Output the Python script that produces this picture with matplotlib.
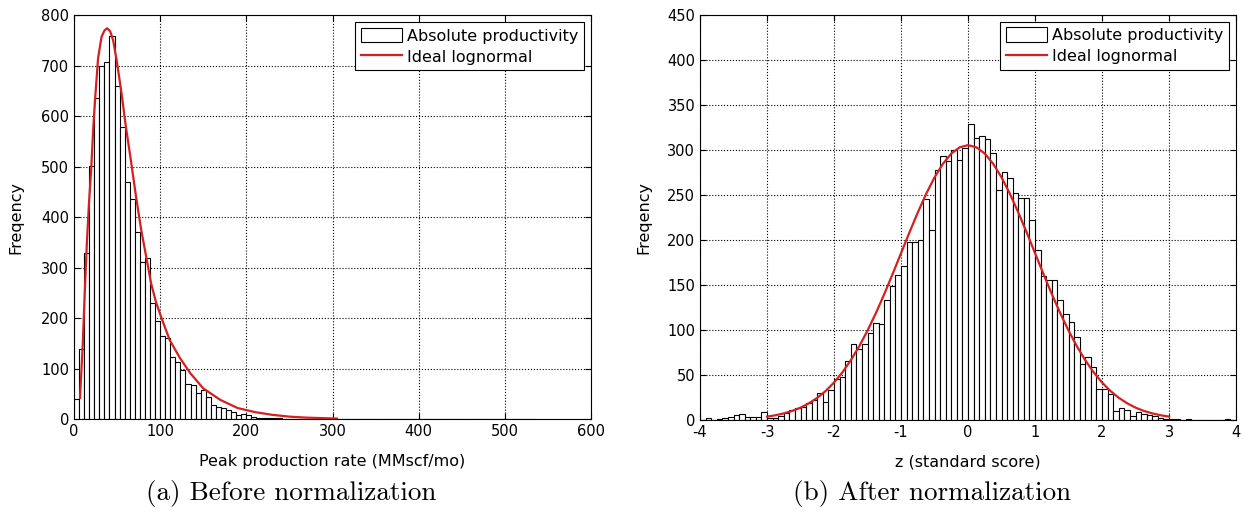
import numpy as np
import matplotlib
matplotlib.use("Agg")
import matplotlib.pyplot as plt
from matplotlib.patches import Patch
from matplotlib.lines import Line2D

plt.rcParams['font.family'] = ['DejaVu Sans']
plt.rcParams['axes.unicode_minus'] = False

# (a) peak production rate histogram, bins of 100/17 MMscf/mo starting at 0
left_bin_width = 100 / 17
left_counts = [40, 138, 330, 502, 635, 699, 708, 759, 660, 579,
               470, 436, 370, 312, 320, 231, 195, 164, 161, 124,
               113, 98, 70, 67, 52, 58, 44, 28, 24, 22,
               18, 14, 8, 11, 8, 5, 3, 3, 2, 2,
               2, 1, 1, 1, 1, 1, 1, 1, 0, 1,
               0, 0, 1, 1, 1, 1, 0, 0, 0, 0,
               0, 0, 1, 0, 0, 0, 0, 0, 0, 0,
               0, 0, 0, 0, 0, 0, 0, 0, 0, 0,
               0, 0, 0, 0, 0, 0, 0, 0, 0, 0, 1]
# ideal lognormal
left_curve_x = [7, 10, 12.5, 15, 17.5, 20, 22.5, 25, 28, 32, 35.5, 38.5, 42, 45.5,
                49.5, 55, 60, 66, 72, 78, 84, 89.5, 95, 101, 111, 123, 135, 150,
                170, 190, 210, 230, 250, 270, 290, 305]
left_curve_y = [42, 140, 250, 350, 430, 495, 580, 645, 715, 757, 770, 774, 768, 750,
                711, 648, 582, 513, 441, 375, 320, 269, 233, 203, 157, 121, 91, 61,
                38, 22, 14, 8.6, 5, 3, 2, 1.2]

# (b) standard score histogram, bins of 1/12 from -4 to 4
right_counts = [0, 2, 0, 1, 2, 3, 5, 6, 3, 3, 3, 9,
                2, 2, 4, 7, 11, 13, 14, 18, 22, 30, 20, 33,
                45, 47, 65, 84, 78, 84, 96, 107, 106, 133, 148, 161,
                171, 197, 197, 200, 245, 211, 277, 293, 287, 300, 288, 302,
                328, 313, 315, 312, 296, 255, 275, 269, 252, 246, 246, 222,
                188, 160, 155, 155, 133, 117, 108, 92, 62, 70, 59, 34,
                34, 28, 10, 13, 11, 4, 8, 6, 5, 4, 2, 1,
                1, 1, 0, 1, 0, 0, 0, 0, 0, 0, 1, 0]
right_curve_x = [-3.0, -2.875, -2.75, -2.625, -2.5, -2.375, -2.25, -2.125, -2.0,
                 -1.875, -1.75, -1.625, -1.5, -1.375, -1.25, -1.125, -1.0,
                 -0.875, -0.75, -0.625, -0.5, -0.375, -0.25, -0.125, 0.0,
                 0.125, 0.25, 0.375, 0.5, 0.625, 0.75, 0.875, 1.0,
                 1.125, 1.25, 1.375, 1.5, 1.625, 1.75, 1.875, 2.0,
                 2.125, 2.25, 2.375, 2.5, 2.625, 2.75, 2.875, 3.0]
right_curve_y = [3.4, 4.9, 7.0, 9.7, 13.4, 18.2, 24.3, 31.9, 41.3,
                 52.6, 66.0, 81.5, 99.0, 118.5, 139.6, 162.0, 185.0,
                 208.0, 230.2, 250.9, 269.2, 284.3, 295.6, 302.6, 305.0,
                 302.6, 295.6, 284.3, 269.2, 250.9, 230.2, 208.0, 185.0,
                 162.0, 139.6, 118.5, 99.0, 81.5, 66.0, 52.6, 41.3,
                 31.9, 24.3, 18.2, 13.4, 9.7, 7.0, 4.9, 3.4]

red = '#d42020'
fig = plt.figure(figsize=(12.43, 5.22), dpi=100)
ax1 = fig.add_axes([0.0595, 0.197, 0.416, 0.774])
ax2 = fig.add_axes([0.5632, 0.196, 0.4312, 0.776])


def style(ax, ylab_x, xlab_y):
    ax.grid(True, color='black', linestyle=':', linewidth=0.8)
    ax.set_axisbelow(True)
    ax.tick_params(direction='in', labelsize=10.5, length=4, top=True, right=True)
    for s in ax.spines.values():
        s.set_linewidth(0.8)
    ax.set_ylabel('Freqency', fontsize=11.5)
    ax.yaxis.set_label_coords(ylab_x, 0.5)
    ax.xaxis.set_label_coords(0.5, xlab_y)


left_edges = np.arange(len(left_counts)) * left_bin_width
ax1.bar(left_edges, left_counts, width=left_bin_width, align='edge',
        facecolor='white', edgecolor='black', linewidth=0.8, zorder=2)
ax1.plot(left_curve_x, left_curve_y, color=red, linewidth=1.6, zorder=3)
ax1.set_xlim(0, 600)
ax1.set_ylim(0, 800)
ax1.set_xticks(range(0, 601, 100))
ax1.set_yticks(range(0, 801, 100))
ax1.set_xlabel('Peak production rate (MMscf/mo)', fontsize=11.5)
style(ax1, -0.097, -0.085)

right_edges = np.linspace(-4, 4, len(right_counts) + 1)[:-1]
ax2.bar(right_edges, right_counts, width=1 / 12, align='edge',
        facecolor='white', edgecolor='black', linewidth=0.8, zorder=2)
ax2.plot(right_curve_x, right_curve_y, color=red, linewidth=1.6, zorder=3)
ax2.set_xlim(-4, 4)
ax2.set_ylim(0, 450)
ax2.set_xticks(range(-4, 5))
ax2.set_yticks(range(0, 451, 50))
ax2.set_xlabel('z (standard score)', fontsize=11.5)
style(ax2, -0.09, -0.085)

handles = [Patch(facecolor='white', edgecolor='black', linewidth=0.8),
           Line2D([], [], color=red, linewidth=1.6)]
labels = ['Absolute productivity', 'Ideal lognormal']
for ax in (ax1, ax2):
    leg = ax.legend(handles, labels, loc='upper right', fontsize=11.5,
                    fancybox=False, framealpha=1, edgecolor='black',
                    borderpad=0.35, labelspacing=0.35, handlelength=2.6,
                    handleheight=1.0, handletextpad=0.3, borderaxespad=0.45)
    leg.get_frame().set_linewidth(0.8)

fig.text(0.234, 0.055, '(a) Before normalization', fontsize=19.5,
         fontfamily='cmr10', ha='center', va='center')
fig.text(0.75, 0.055, '(b) After normalization', fontsize=19.5,
         fontfamily='cmr10', ha='center', va='center')

fig.savefig('out.png', dpi=100)
